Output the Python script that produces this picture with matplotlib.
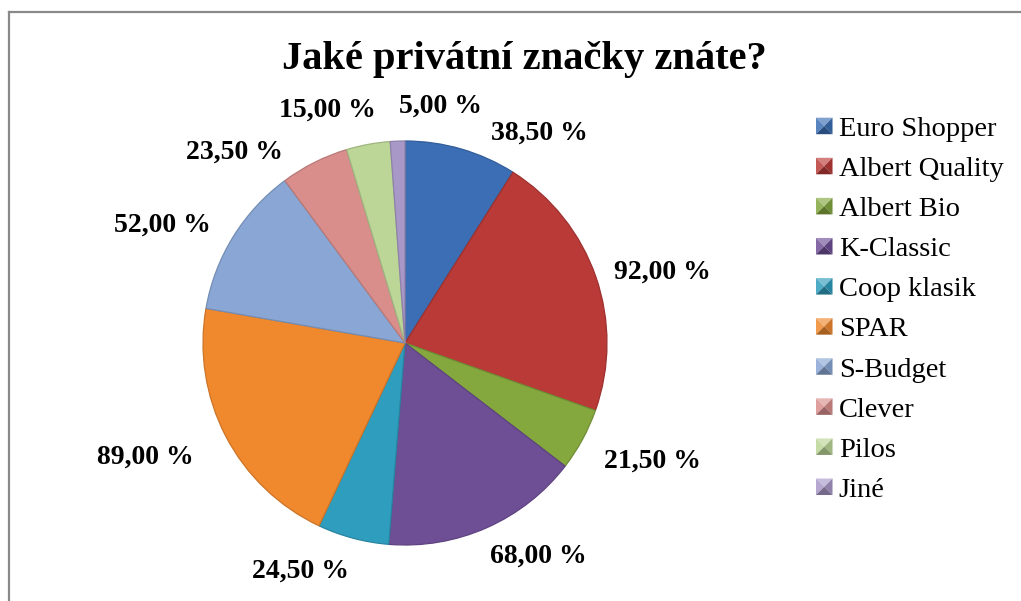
import matplotlib
matplotlib.use("Agg")
import matplotlib.pyplot as plt
import matplotlib.colors as mcolors
from matplotlib.patches import Polygon
from matplotlib.legend_handler import HandlerBase
from matplotlib.lines import Line2D
import numpy as np

# ---- data ----
title = "Jaké privátní značky znáte?"
categories = ["Euro Shopper", "Albert Quality", "Albert Bio", "K-Classic", "Coop klasik",
              "SPAR", "S-Budget", "Clever", "Pilos", "Jiné"]
values = [38.5, 92.0, 21.5, 68.0, 24.5, 89.0, 52.0, 23.5, 15.0, 5.0]

# ---- style ----
colors = ["#3B6EB4", "#B93A37", "#84A73E", "#6E4F96", "#2F9DBD",
          "#F0892E", "#89A6D4", "#D98E8C", "#BBD697", "#A898C8"]
# label layout (angle in degrees CCW from +x, distance in pie radii), Excel "best fit" style
label_layout = [(57.3, 1.236), (15.4, 1.32), (-25.5, 1.355), (-58.0, 1.243), (-114.7, 1.243),
                (-156.3, 1.405), (154.1, 1.337), (131.8, 1.268), (108.3, 1.215), (81.4, 1.187)]

W, H = 1021, 601
fig = plt.figure(figsize=(W / 100, H / 100), dpi=100)
fig.patch.set_facecolor("white")

serif = ["Liberation Serif", "DejaVu Serif"]

# frame lines (top and left visible)
fig.add_artist(Line2D([9 / W, 1.0], [1 - 12 / H, 1 - 12 / H], transform=fig.transFigure,
                      color="#898989", lw=1.6))
fig.add_artist(Line2D([9 / W, 9 / W], [1 - 12 / H, 0.0], transform=fig.transFigure,
                      color="#898989", lw=1.6))

cx, cy, R = 405, 343, 202
ax = fig.add_axes([(cx - R) / W, (H - cy - R) / H, 2 * R / W, 2 * R / H])
wedges, _ = ax.pie(values, colors=colors, startangle=90, counterclock=False, radius=1.0,
                   wedgeprops=dict(linewidth=0.9))
for w, c in zip(wedges, colors):
    dark = tuple(np.array(mcolors.to_rgb(c)) * 0.85)
    w.set_edgecolor(dark)
ax.set_xlim(-1, 1)
ax.set_ylim(-1, 1)
ax.set_aspect("equal")
ax.set_axis_off()

for v, (ang, dist) in zip(values, label_layout):
    t = np.deg2rad(ang)
    lbl = f"{v:.2f}".replace(".", ",") + " %"
    ax.text(dist * np.cos(t), dist * np.sin(t), lbl, ha="center", va="center",
            fontsize=20, fontweight="bold", family=serif, clip_on=False)

fig.text(524 / W, 1 - 59 / H, title, ha="center", va="center", fontsize=29.2,
         fontweight="bold", family=serif)


class HandlerBevel(HandlerBase):
    def create_artists(self, legend, orig_handle, xdescent, ydescent, width, height,
                       fontsize, trans):
        base = np.array(mcolors.to_rgb(orig_handle.get_facecolor()))
        s = min(width, height)
        x0 = -xdescent + (width - s) / 2
        y0 = -ydescent + (height - s) / 2
        x1, y1 = x0 + s, y0 + s
        mx, my = (x0 + x1) / 2, (y0 + y1) / 2
        light = np.clip(base + (1 - base) * 0.35, 0, 1)
        dark = base * 0.7
        tris = [
            ([(x0, y1), (x1, y1), (mx, my)], light),
            ([(x0, y0), (x0, y1), (mx, my)], np.clip(base + (1 - base) * 0.15, 0, 1)),
            ([(x1, y0), (x1, y1), (mx, my)], base * 0.85),
            ([(x0, y0), (x1, y0), (mx, my)], dark),
        ]
        arts = []
        for pts, col in tris:
            p = Polygon(pts, closed=True, facecolor=col, edgecolor="none", transform=trans)
            arts.append(p)
        return arts


leg = fig.legend(wedges, categories, loc="upper left",
                 bbox_to_anchor=(816 / W, 1 - 117 / H),
                 frameon=False, prop={"family": serif, "size": 20.5},
                 handler_map={type(wedges[0]): HandlerBevel()},
                 handlelength=0.58, handleheight=0.58, handletextpad=0.22,
                 labelspacing=0.53, borderaxespad=0, borderpad=0)

fig.savefig("out.png", dpi=100, facecolor="white")
